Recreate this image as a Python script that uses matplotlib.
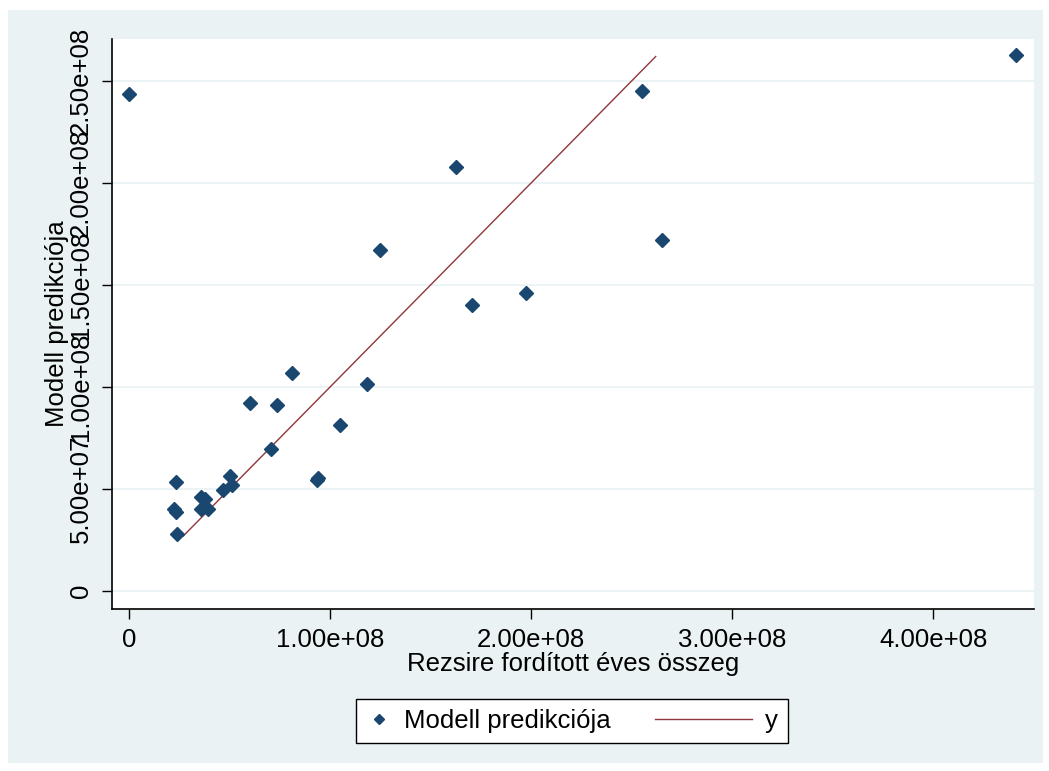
import numpy as np
import matplotlib
matplotlib.use("Agg")
import matplotlib.pyplot as plt
from matplotlib.patches import Rectangle
from matplotlib.lines import Line2D
from matplotlib.legend_handler import HandlerLine2D

plt.rcParams['font.family'] = ['Liberation Sans', 'DejaVu Sans']

# Data (values in currency units)
rezsi = np.array([0.0, 4.41e8, 2.55e8, 1.627e8, 2.65e8, 1.249e8, 1.706e8, 1.975e8,
                  0.811e8, 1.184e8, 0.602e8, 0.736e8, 1.05e8, 0.705e8, 0.935e8,
                  0.941e8, 0.236e8, 0.502e8, 0.511e8, 0.466e8, 0.359e8, 0.378e8,
                  0.359e8, 0.392e8, 0.224e8, 0.234e8, 0.24e8])
predikcio = np.array([2.436e8, 2.627e8, 2.45e8, 2.078e8, 1.72e8, 1.67e8, 1.40e8, 1.46e8,
                      1.069e8, 1.015e8, 0.92e8, 0.912e8, 0.814e8, 0.694e8, 0.546e8,
                      0.552e8, 0.535e8, 0.564e8, 0.52e8, 0.497e8, 0.461e8, 0.451e8,
                      0.404e8, 0.404e8, 0.404e8, 0.386e8, 0.279e8])

# "y" line (y plotted against itself)
y_line = np.array([0.27e8, 0.70e8, 1.44e8, 2.22e8, 2.62e8])

xticks = [0, 1e8, 2e8, 3e8, 4e8]
xtick_labels = ['0', '1.00e+08', '2.00e+08', '3.00e+08', '4.00e+08']
yticks = [0, 5e7, 1e8, 1.5e8, 2e8, 2.5e8]
ytick_labels = ['0', '5.00e+07', '1.00e+08', '1.50e+08', '2.00e+08', '2.50e+08']

NAVY = '#1A476F'
MAROON = '#90353B'
BG = '#EAF2F3'
FS = 18.5


class LeftStretchLine(HandlerLine2D):
    """Draw the line key wider than its handle box, extending to the left."""
    def create_artists(self, legend, orig_handle, xdescent, ydescent,
                       width, height, fontsize, trans):
        ext = 3.8 * fontsize
        y = (height - ydescent) / 2.0
        line = Line2D([width - ext - xdescent, width - xdescent], [y, y])
        self.update_prop(line, orig_handle, legend)
        line.set_transform(trans)
        return [line]


fig = plt.figure(figsize=(10.49, 7.71), dpi=100, facecolor='white')
fig.patches.append(Rectangle((8 / 1049, 1 - 763 / 771), 1035 / 1049, 753 / 771,
                             transform=fig.transFigure, facecolor=BG,
                             edgecolor='none', zorder=-10))

ax = fig.add_axes([112 / 1049, 1 - 609 / 771, 922 / 1049, 570 / 771])
ax.set_facecolor('white')

for yt in yticks:
    ax.axhline(yt, color=BG, linewidth=1.3, zorder=0)

pts, = ax.plot(rezsi, predikcio, linestyle='none', marker='D', markersize=7,
               color=NAVY, label='Modell predikciója', zorder=3)
ln, = ax.plot(y_line, y_line, color=MAROON, linewidth=1.0, label='y', zorder=2)

ax.set_xlim(-0.0846e8, 4.502e8)
ax.set_ylim(-0.088e8, 2.706e8)

ax.set_xticks(xticks)
ax.set_xticklabels(xtick_labels, fontsize=FS)
ax.set_yticks(yticks)
ax.set_yticklabels(ytick_labels, fontsize=FS, rotation=90, va='center')
ax.tick_params(axis='both', length=7, width=1, color='black', pad=7)

for side in ['top', 'right']:
    ax.spines[side].set_visible(False)
for side in ['left', 'bottom']:
    ax.spines[side].set_linewidth(1.2)
    ax.spines[side].set_color('black')

ax.set_xlabel('Rezsire fordított éves összeg', fontsize=FS, labelpad=0)
ax.set_ylabel('Modell predikciója', fontsize=FS, labelpad=0)

leg = fig.legend(handles=[pts, ln], loc='center', ncol=2,
                 bbox_to_anchor=(572 / 1049, 1 - 721 / 771),
                 fontsize=FS, handlelength=1.0, handletextpad=0.5,
                 columnspacing=4.5, borderpad=0.4, fancybox=False,
                 framealpha=1, edgecolor='black', numpoints=1,
                 handler_map={ln: LeftStretchLine()})
leg.get_frame().set_linewidth(1.0)
for lh in leg.legend_handles:
    if lh.get_marker() == 'D':
        lh.set_markersize(5)

fig.savefig('out.png', dpi=100, facecolor='white')
